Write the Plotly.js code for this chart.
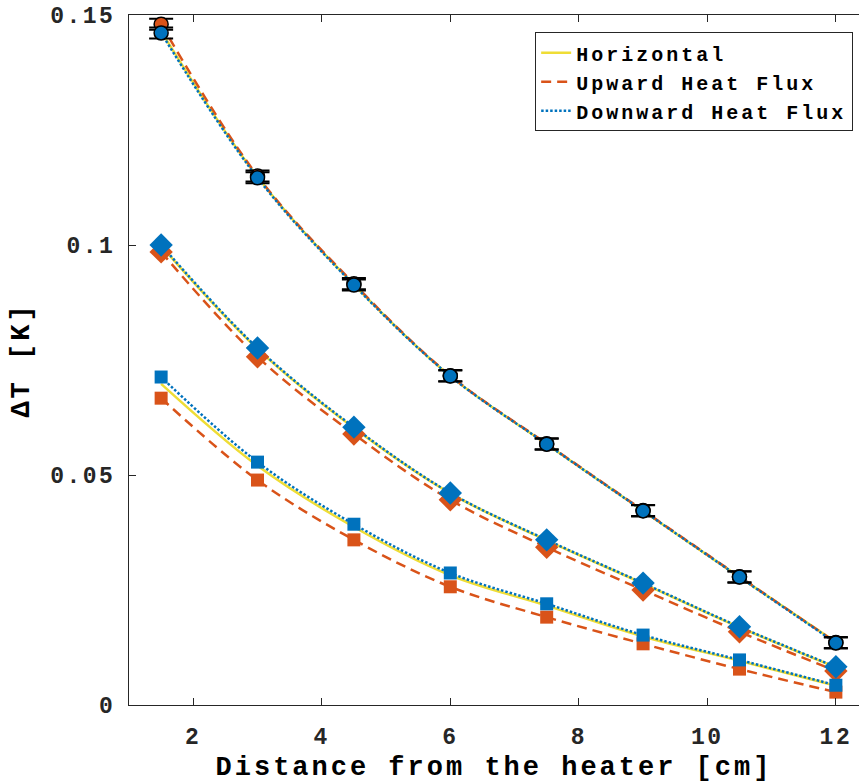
<!DOCTYPE html>
<html>
<head>
<meta charset="utf-8">
<script src="https://cdn.plot.ly/plotly-3.0.1.min.js"></script>
<style>
html,body{margin:0;padding:0;background:#fff;}
#chart{width:859px;height:783px;}
.xtick text, .ytick text { letter-spacing: 2.5px; }
.legendtext { letter-spacing: 3px; }
.g-xtitle text, .g-ytitle text { letter-spacing: 3px; }
</style>
</head>
<body>
<div id="chart"></div>
<script>
// distances [cm]
const xPos = [1.5, 3, 4.5, 6, 7.5, 9, 10.5, 12];

// circle group (top)
const circHoriz = [0.1465, 0.1148, 0.0914, 0.0715, 0.0567, 0.0422, 0.0278, 0.0137];
const circUp    = [0.1480, 0.1150, 0.0916, 0.0716, 0.0568, 0.0423, 0.0279, 0.0136];
const circDown  = [0.1461, 0.1146, 0.0913, 0.0715, 0.0567, 0.0422, 0.0278, 0.0135];
const circErr   = [0.0012, 0.0012, 0.0012, 0.0012, 0.0012, 0.0012, 0.0012, 0.0012];

// diamond group (middle)
const diaHoriz = [0.0998, 0.0774, 0.0602, 0.0460, 0.0358, 0.0264, 0.0169, 0.0082];
const diaUp    = [0.0985, 0.0757, 0.0589, 0.0446, 0.0343, 0.0250, 0.0159, 0.0074];
const diaDown  = [0.1000, 0.0776, 0.0604, 0.0461, 0.0359, 0.0265, 0.0170, 0.0083];

// square group (bottom)
const sqHoriz = [0.0698, 0.0520, 0.0387, 0.0282, 0.0216, 0.0149, 0.0096, 0.0042];
const sqUp    = [0.0667, 0.0489, 0.0359, 0.0257, 0.0191, 0.0133, 0.0078, 0.0028];
const sqDown  = [0.0713, 0.0528, 0.0393, 0.0287, 0.0220, 0.0152, 0.0098, 0.0043];

const seriesNames = ['Horizontal', 'Upward Heat Flux', 'Downward Heat Flux'];
const xTicks = [2, 4, 6, 8, 10, 12];
const yTicks = [0, 0.05, 0.1, 0.15];
const yTickText = ['0', '0.05', '0.1', '0.15'];

const cYellow = '#EFDD35', cOrange = '#D95319', cBlue = '#0072BD';
const lw = 2.5;
const FONT = 'Liberation Mono, Courier New, monospace';

function lineTrace(y, color, dash, name, show) {
  return {x: xPos, y: y, mode: 'lines', line: {color: color, width: lw, dash: dash, shape: 'spline'},
          name: name, legendgroup: name, showlegend: show, hoverinfo: 'skip'};
}
function markTrace(y, color, symbol, size, outline, err) {
  const t = {x: xPos, y: y, mode: 'markers', showlegend: false, hoverinfo: 'skip',
    marker: {color: color, symbol: symbol, size: size,
             line: {color: outline ? '#000' : color, width: outline ? 1.5 : 0}}};
  if (err) t.error_y = {type: 'data', array: err, visible: true, color: '#000', thickness: 2, width: 12};
  return t;
}

const DASH = '10px,6px', DOT = '2.5px,2px';
const data = [
  lineTrace(sqHoriz, cYellow, 'solid', seriesNames[0], true),
  lineTrace(diaHoriz, cYellow, 'solid', seriesNames[0], false),
  lineTrace(circHoriz, cYellow, 'solid', seriesNames[0], false),
  lineTrace(sqUp, cOrange, DASH, seriesNames[1], true),
  lineTrace(diaUp, cOrange, DASH, seriesNames[1], false),
  lineTrace(circUp, cOrange, DASH, seriesNames[1], false),
  lineTrace(sqDown, cBlue, DOT, seriesNames[2], true),
  lineTrace(diaDown, cBlue, DOT, seriesNames[2], false),
  lineTrace(circDown, cBlue, DOT, seriesNames[2], false),
  markTrace(sqUp, cOrange, 'square', 13, false),
  markTrace(diaUp, cOrange, 'diamond', 18, false),
  markTrace(circUp, cOrange, 'circle', 14, true, circErr),
  markTrace(sqDown, cBlue, 'square', 13, false),
  markTrace(diaDown, cBlue, 'diamond', 18, false),
  markTrace(circDown, cBlue, 'circle', 14, true, circErr)
];

const layout = {
  width: 859, height: 783,
  margin: {l: 129, r: 0, t: 15, b: 78},
  paper_bgcolor: '#fff', plot_bgcolor: '#fff',
  font: {family: FONT, color: '#262626', weight: 'bold'},
  showlegend: true,
  legend: {x: 0.992, y: 0.975, xanchor: 'right', yanchor: 'top',
           bgcolor: '#fff', bordercolor: '#262626', borderwidth: 1,
           font: {family: FONT, size: 20, color: '#000', weight: 'bold'},
           tracegroupgap: 0},
  xaxis: {range: [1, 12.36], tickvals: xTicks, ticktext: xTicks.map(String),
          ticks: 'inside', ticklen: 7, tickcolor: '#262626', tickwidth: 1,
          showline: true, linecolor: '#262626', linewidth: 1, mirror: 'ticks',
          showgrid: false, zeroline: false, ticklabelstandoff: 10,
          tickfont: {family: FONT, size: 23, color: '#262626', weight: 'bold'},
          title: {text: 'Distance from the heater [cm]', standoff: 6,
                  font: {family: FONT, size: 27, color: '#000', weight: 'bold'}}},
  yaxis: {range: [0, 0.15], tickvals: yTicks, ticktext: yTickText,
          ticks: 'inside', ticklen: 7, tickcolor: '#262626', tickwidth: 1,
          showline: true, linecolor: '#262626', linewidth: 1, mirror: false,
          showgrid: false, zeroline: false, ticklabelstandoff: 8,
          tickfont: {family: FONT, size: 23, color: '#262626', weight: 'bold'},
          title: {text: 'ΔT [K]', standoff: 12,
                  font: {family: FONT, size: 27, color: '#000', weight: 'bold'}}}
};

Plotly.newPlot('chart', data, layout, {staticPlot: true, displayModeBar: false});
</script>
</body>
</html>
